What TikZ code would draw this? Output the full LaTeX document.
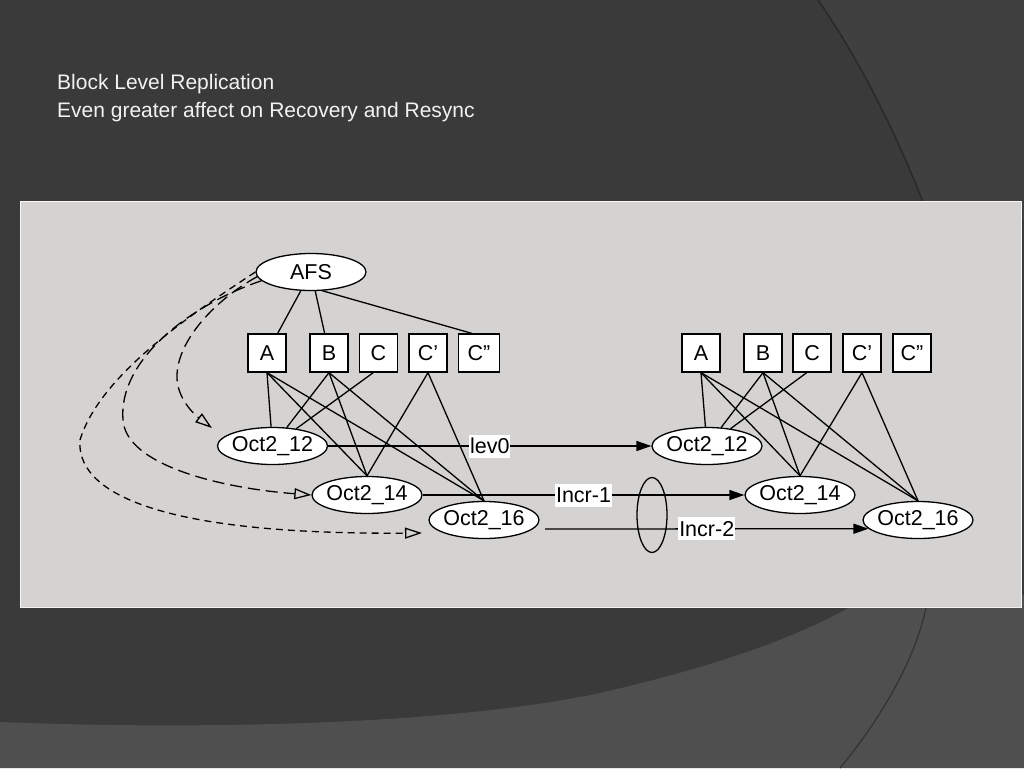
\documentclass[tikz,border=0pt]{standalone}
\usepackage{fontspec}
\setmainfont{Liberation Sans}
\usetikzlibrary{arrows.meta,shapes.geometric}
\definecolor{bgdark}{HTML}{3A3A3A}
\definecolor{bgmid}{HTML}{404040}
\definecolor{bglight}{HTML}{4F4F4F}
\definecolor{panel}{HTML}{D4D3D1}
\definecolor{titlecol}{HTML}{F2F2F2}
\begin{document}
\begin{tikzpicture}[x=1pt,y=-1pt,
  gfont/.style={font=\fontsize{21.5}{25}\selectfont},
  oval/.style={ellipse,draw,fill=white,line width=1.3pt,minimum width=110pt,minimum height=37pt,inner xsep=-2pt,inner ysep=0pt,gfont},
  box/.style={rectangle,draw,fill=white,line width=1.3pt,minimum width=38pt,minimum height=38pt,inner sep=0pt,gfont},
  edge/.style={line width=1.3pt},
  arr/.style={edge,-{Triangle[length=15pt,width=10pt]}},
  lab/.style={fill=white,inner xsep=1pt,inner ysep=0pt,minimum height=23pt,gfont},
  oarr/.style={line width=1.3pt,-{Triangle[open,length=17pt,width=11pt]}},
  longdash/.style={dash pattern=on 12pt off 6pt},
  shortdash/.style={dash pattern=on 7pt off 5pt},
  titletext/.style={anchor=base west,text=titlecol,inner sep=0pt,font=\fontsize{21}{25}\selectfont}
]
\useasboundingbox (0,0) rectangle (1024,768);
% background
\fill[bgdark] (0,0) rectangle (1024,768);
\fill[bgmid] (818,0) .. controls (860,60) and (900,140) .. (930,220) -- (1024,220) -- (1024,0) -- cycle;
\draw[black!60!bgdark,line width=1.5pt,opacity=0.5] (818,0) .. controls (860,60) and (900,140) .. (930,220);
\fill[bglight] (0,722) .. controls (200,730) and (450,725) .. (600,693) .. controls (700,670) and (800,640) .. (870,595) -- (1024,595) -- (1024,768) -- (0,768) -- cycle;
\draw[black!35!bglight,line width=1.2pt] (926,608) .. controls (915,660) and (880,720) .. (840,768);
% panel
\fill[panel] (20,201) rectangle (1022,608);
\draw[white!80!panel,line width=1pt] (20.5,608) -- (20.5,201.5) -- (1021.5,201.5) -- (1021.5,608);
\draw[white!70!panel,line width=1pt] (20,607.5) -- (1022,607.5);
% title
\node[titletext] (title1) at (57,89) {Block Level Replication};
\node[titletext] (title2) at (57,117) {Even greater affect on Recovery and Resync};
% left graph
\node[oval] (afs) at (311,272) {AFS};
\node[box] (aL) at (267,353) {A};
\node[box] (bL) at (329,353) {B};
\node[box] (cL) at (378.5,353) {C};
\node[box] (cpL) at (428,353) {C’};
\node[box,minimum width=41pt] (cppL) at (479,353) {C”};
\node[oval] (o12L) at (272.5,446) {Oct2\_12};
\node[oval] (o14L) at (367,495) {Oct2\_14};
\node[oval] (o16L) at (484,520) {Oct2\_16};
% right graph
\node[box] (aR) at (701,353) {A};
\node[box] (bR) at (763,353) {B};
\node[box] (cR) at (812,353) {C};
\node[box] (cpR) at (862,353) {C’};
\node[box] (cppR) at (912,353) {C”};
\node[oval] (o12R) at (707,446) {Oct2\_12};
\node[oval] (o14R) at (800,495) {Oct2\_14};
\node[oval] (o16R) at (918,520) {Oct2\_16};
% group ellipse
\node[ellipse,draw,line width=1.3pt,minimum width=30pt,minimum height=75pt,inner sep=0pt] (grp) at (652,515) {};
% AFS edges
\draw[edge] (afs) -- (aL);
\draw[edge] (afs) -- (bL);
\draw[edge] (afs.-59) -- (cppL.110);
% left box -> snapshot edges
\draw[edge] (aL.south) -- (o12L);
\draw[edge] (bL.south) -- (o12L);
\draw[edge] (cL.-105) -- (o12L);
\draw[edge] (aL.south) -- (o14L.north);
\draw[edge] (bL.south) -- (o14L.north);
\draw[edge] (cpL.south) -- (o14L.north);
\draw[edge] (aL.south) -- (o16L.north);
\draw[edge] (bL.south) -- (o16L.north);
\draw[edge] (cpL.south) -- (o16L.north);
% right box -> snapshot edges
\draw[edge] (aR.south) -- (o12R);
\draw[edge] (bR.south) -- (o12R);
\draw[edge] (cR.-105) -- (o12R);
\draw[edge] (aR.south) -- (o14R.north);
\draw[edge] (bR.south) -- (o14R.north);
\draw[edge] (cpR.south) -- (o14R.north);
\draw[edge] (aR.south) -- (o16R.north);
\draw[edge] (bR.south) -- (o16R.north);
\draw[edge] (cpR.south) -- (o16R.north);
% replication arrows
\draw[arr] (o12L) -- node[lab] (lev0) {lev0} (o12R);
\draw[arr] (o14L) -- node[lab] (incr1) {Incr-1} (o14R);
\coordinate (i2s) at (545,529);
\draw[arr] (i2s) -- node[lab] (incr2) {Incr-2} (o16R.190);
% dashed curves from AFS
\coordinate (tip1) at (212,428);
\coordinate (tip3) at (422,533);
\draw[oarr,longdash] (afs.185) .. controls (215,300) and (178,340) .. (177,375) .. controls (176,398) and (195,415) .. (tip1);
\draw[oarr,longdash] (afs.190) .. controls (190,305) and (118,360) .. (123,420) .. controls (126,465) and (220,488) .. (o14L.west);
\draw[oarr,shortdash] (afs.180) .. controls (190,315) and (100,375) .. (80,440) .. controls (76,490) and (150,535) .. (tip3);
\end{tikzpicture}
\end{document}
